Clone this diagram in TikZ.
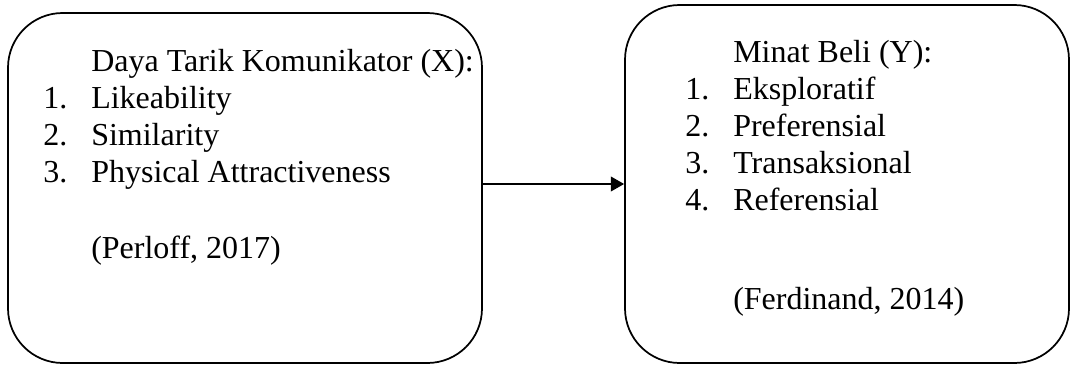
\documentclass[tikz,border=0pt]{standalone}
\usepackage{fontspec}
\setmainfont{Liberation Serif}
\usetikzlibrary{arrows.meta}

\begin{document}
\begin{tikzpicture}[x=0.75pt, y=-0.75pt,
    varbox/.style={draw, line width=1.3pt, rounded corners=41pt, inner sep=0pt},
    varlist/.style={anchor=north west, inner sep=0pt, align=left,
                    font=\fontsize{24}{27.75}\selectfont},
    arr/.style={-{Triangle[length=10pt, width=11pt]}, line width=1.5pt}
  ]
    \useasboundingbox (0,0) rectangle (1074,365);

    %% Variable X: Daya Tarik Komunikator
    \node[varbox, minimum width=355.5pt, minimum height=262.5pt] (boxx) at (245,188) {};
    \node[varlist] (listx) at (43,49)
      {\hspace*{36pt}Daya Tarik Komunikator (X):\\
       \makebox[36pt][l]{1.}Likeability\\
       \makebox[36pt][l]{2.}Similarity\\
       \makebox[36pt][l]{3.}Physical Attractiveness\\[29pt]
       \hspace*{36pt}(Perloff, 2017)};

    %% Variable Y: Minat Beli
    \node[varbox, minimum width=333pt, minimum height=268.5pt] (boxy) at (847,184) {};
    \node[varlist] (listy) at (685,39.7)
      {\hspace*{36pt}Minat Beli (Y):\\
       \makebox[36pt][l]{1.}Eksploratif\\
       \makebox[36pt][l]{2.}Preferensial\\
       \makebox[36pt][l]{3.}Transaksional\\
       \makebox[36pt][l]{4.}Referensial\\[46.5pt]
       \hspace*{36pt}(Ferdinand, 2014)};

    %% Arrow
    \draw[arr] (boxx.east |- boxy.west) -- (boxy.west);
  \end{tikzpicture}
\end{document}
